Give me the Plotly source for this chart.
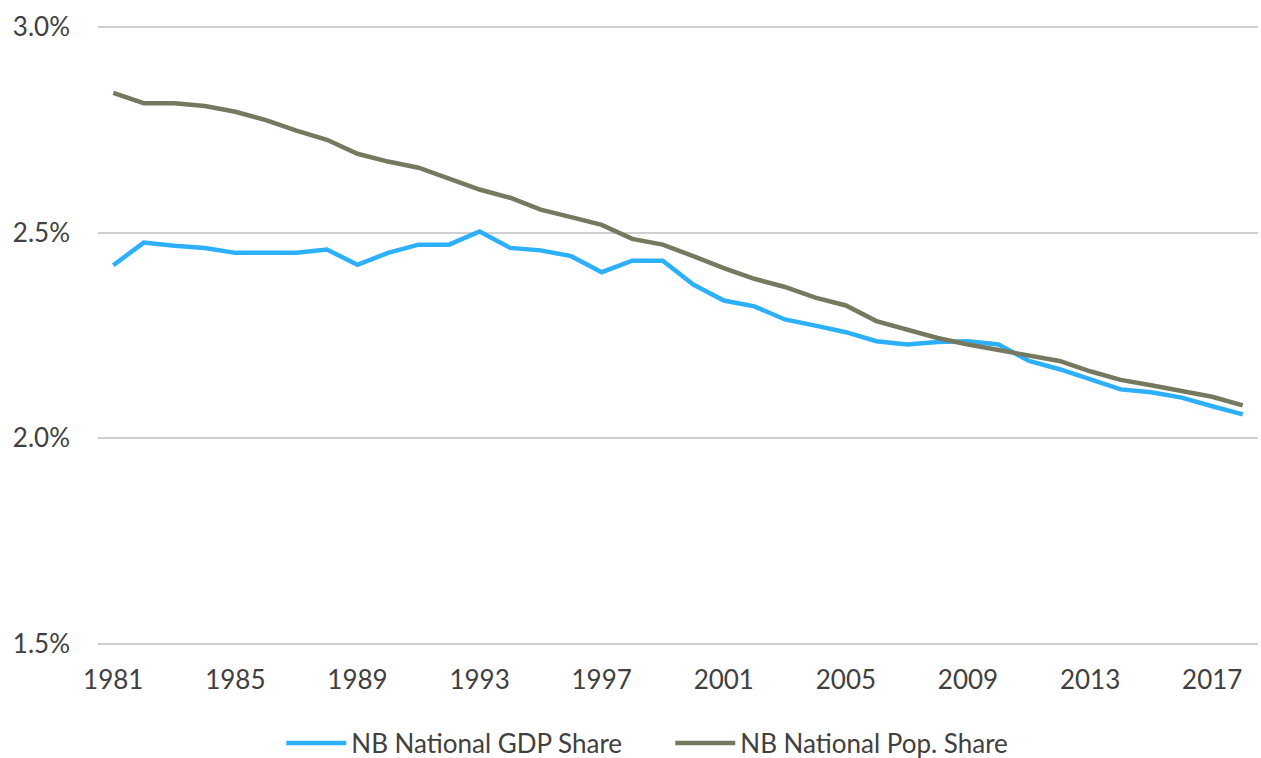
import plotly.graph_objects as go

years = list(range(1981, 2019))

gdp_share = [2.421, 2.476, 2.468, 2.463, 2.451, 2.451, 2.451, 2.459, 2.422, 2.451,
             2.471, 2.471, 2.503, 2.463, 2.457, 2.443, 2.404, 2.432, 2.432, 2.374,
             2.335, 2.321, 2.289, 2.274, 2.258, 2.236, 2.228, 2.234, 2.236, 2.228,
             2.188, 2.168, 2.143, 2.119, 2.112, 2.099, 2.078, 2.058]

pop_share = [2.840, 2.815, 2.815, 2.808, 2.794, 2.774, 2.748, 2.726, 2.692, 2.673,
             2.658, 2.632, 2.605, 2.585, 2.556, 2.538, 2.519, 2.485, 2.471, 2.443,
             2.414, 2.388, 2.368, 2.342, 2.323, 2.285, 2.265, 2.244, 2.228, 2.214,
             2.200, 2.188, 2.163, 2.142, 2.129, 2.115, 2.101, 2.080]

x_ticks = [1981, 1985, 1989, 1993, 1997, 2001, 2005, 2009, 2013, 2017]
y_ticks = [1.5, 2.0, 2.5, 3.0]
y_tick_labels = ["1.5%", "2.0%", "2.5%", "3.0%"]

series_names = ["NB National GDP Share", "NB National Pop. Share"]
colors = ["#2cb0fb", "#777860"]

fig = go.Figure()
fig.add_trace(go.Scatter(x=years, y=gdp_share, mode="lines", name=series_names[0],
                         line=dict(color=colors[0], width=4.5)))
fig.add_trace(go.Scatter(x=years, y=pop_share, mode="lines", name=series_names[1],
                         line=dict(color=colors[1], width=4.5)))

font_family = "Lato, 'Open Sans', sans-serif"
fs = 26

fig.update_layout(
    width=1261, height=758,
    margin=dict(l=98, r=3, t=23, b=110, autoexpand=False),
    paper_bgcolor="white", plot_bgcolor="white",
    font=dict(family=font_family, size=fs, color="#404040"),
    showlegend=True,
    legend=dict(orientation="h", x=0.158, xanchor="left", xref="paper",
                y=-0.152, yanchor="middle", font=dict(size=fs, color="#404040"),
                itemwidth=60, entrywidth=314, entrywidthmode="pixels",
                traceorder="normal"),
    xaxis=dict(range=[1980.5, 2018.5], tickvals=x_ticks, showgrid=False,
               zeroline=False, showline=False, ticks="", ticklabelstandoff=14,
               automargin=False, tickfont=dict(size=fs, color="#404040")),
    yaxis=dict(range=[1.49, 3.01], tickvals=y_ticks, ticktext=y_tick_labels,
               showgrid=True, gridcolor="#cfcfcf", gridwidth=2, zeroline=False,
               showline=False, ticks="", ticklabelstandoff=27, automargin=False,
               tickfont=dict(size=fs, color="#404040")),
)

fig.write_html("out.html")
